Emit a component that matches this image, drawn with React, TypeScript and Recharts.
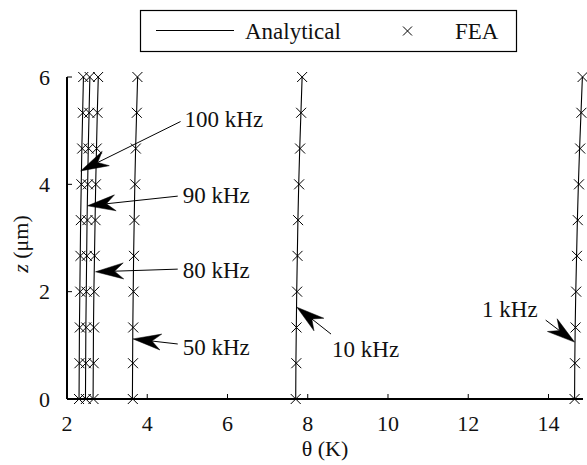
import React from 'react';
import { ScatterChart, Scatter, XAxis, YAxis, ReferenceLine } from 'recharts';

const zValues = [0, 0.667, 1.333, 2, 2.667, 3.333, 4, 4.667, 5.333, 6];

const analytical100k = [2.3, 2.305, 2.31, 2.32, 2.33, 2.34, 2.355, 2.37, 2.39, 2.41];
const analytical90k = [2.46, 2.465, 2.47, 2.48, 2.49, 2.5, 2.515, 2.53, 2.55, 2.57];
const analytical80k = [2.65, 2.655, 2.66, 2.67, 2.685, 2.7, 2.715, 2.735, 2.755, 2.78];
const analytical50k = [3.63, 3.635, 3.64, 3.65, 3.66, 3.675, 3.69, 3.71, 3.735, 3.76];
const analytical10k = [7.7, 7.705, 7.715, 7.725, 7.74, 7.755, 7.775, 7.8, 7.83, 7.86];
const analytical1k = [14.65, 14.655, 14.665, 14.68, 14.7, 14.72, 14.745, 14.775, 14.81, 14.845];

const fea100k = [2.3, 2.31, 2.32, 2.33, 2.335, 2.345, 2.36, 2.38, 2.395, 2.405];
const fea90k = [2.47, 2.47, 2.48, 2.485, 2.495, 2.51, 2.52, 2.54, 2.555, 2.565];
const fea80k = [2.66, 2.665, 2.675, 2.68, 2.69, 2.71, 2.72, 2.74, 2.76, 2.775];
const fea50k = [3.64, 3.645, 3.65, 3.66, 3.67, 3.68, 3.7, 3.715, 3.74, 3.755];
const fea10k = [7.7, 7.715, 7.72, 7.735, 7.745, 7.76, 7.785, 7.81, 7.835, 7.86];
const fea1k = [14.65, 14.66, 14.675, 14.69, 14.71, 14.73, 14.76, 14.79, 14.82, 14.85];

const xTicks = [2, 4, 6, 8, 10, 12, 14];
const yTicks = [0, 2, 4, 6];
const xDomain = [2, 14.86];
const yDomain = [0, 6];

const annotations = [
  { label: '100 kHz', from: [4.83, 5.17], to: [2.34, 4.25] },
  { label: '90 kHz', from: [4.76, 3.78], to: [2.51, 3.6] },
  { label: '80 kHz', from: [4.76, 2.42], to: [2.71, 2.37] },
  { label: '50 kHz', from: [4.76, 1.025], to: [3.645, 1.12] },
  { label: '10 kHz', from: [8.58, 1.21], to: [7.73, 1.71] },
  { label: '1 kHz', from: [13.93, 1.47], to: [14.65, 1.06] },
];

const textOffsets: Record<string, { dx: number; dy: number; anchor: string }> = {
  '100 kHz': { dx: 4, dy: 5, anchor: 'start' },
  '90 kHz': { dx: 5, dy: 7, anchor: 'start' },
  '80 kHz': { dx: 5, dy: 9, anchor: 'start' },
  '50 kHz': { dx: 5, dy: 11, anchor: 'start' },
  '10 kHz': { dx: 1, dy: 23, anchor: 'start' },
  '1 kHz': { dx: -8, dy: -3, anchor: 'end' },
};

const FONT = "'Liberation Serif', 'DejaVu Serif', 'Times New Roman', serif";
const txt = (size: number) => ({ fontFamily: FONT, fontSize: size });

const toPoints = (ts: number[]) => ts.map((t, i) => ({ t, z: zValues[i] }));

const series = [
  { name: '100k', a: analytical100k, f: fea100k },
  { name: '90k', a: analytical90k, f: fea90k },
  { name: '80k', a: analytical80k, f: fea80k },
  { name: '50k', a: analytical50k, f: fea50k },
  { name: '10k', a: analytical10k, f: fea10k },
  { name: '1k', a: analytical1k, f: fea1k },
];

const Cross = (props: any) => {
  const { cx, cy } = props;
  if (cx == null || cy == null) return <g />;
  const s = 5;
  return (
    <g>
      <line x1={cx - s} y1={cy - s} x2={cx + s} y2={cy + s} stroke="#000" strokeWidth={1} />
      <line x1={cx - s} y1={cy + s} x2={cx + s} y2={cy - s} stroke="#000" strokeWidth={1} />
    </g>
  );
};

const NoShape = () => <g />;

const BottomTick = (props: any) => {
  const { x, y, payload } = props;
  return (
    <g>
      <line x1={x} y1={y} x2={x} y2={y - 5} stroke="#000" strokeWidth={1} />
      <text x={x} y={y + 32} textAnchor="middle" style={txt(22)} fill="#111">
        {payload.value}
      </text>
    </g>
  );
};

const TopTick = (props: any) => {
  const { x, y } = props;
  return <line x1={x} y1={y} x2={x} y2={y + 5} stroke="#000" strokeWidth={1} />;
};

const LeftTick = (props: any) => {
  const { x, y, payload } = props;
  return (
    <g>
      <line x1={x} y1={y} x2={x + 5} y2={y} stroke="#000" strokeWidth={1} />
      <text x={x - 17} y={y} dy="0.35em" textAnchor="end" style={txt(22)} fill="#111">
        {payload.value}
      </text>
    </g>
  );
};

const RightTick = (props: any) => {
  const { x, y } = props;
  return <line x1={x} y1={y} x2={x - 5} y2={y} stroke="#000" strokeWidth={1} />;
};

const makeArrow = (label: string) => (props: any) => {
  const { x1, y1, x2, y2 } = props;
  const dx = x2 - x1;
  const dy = y2 - y1;
  const len = Math.hypot(dx, dy) || 1;
  const ux = dx / len;
  const uy = dy / len;
  const px = -uy;
  const py = ux;
  const L = 28;
  const W = 8;
  const N = 19;
  const bx = x2 - ux * L;
  const by = y2 - uy * L;
  const nx = x2 - ux * N;
  const ny = y2 - uy * N;
  const pts = `${x2},${y2} ${bx + px * W},${by + py * W} ${nx},${ny} ${bx - px * W},${by - py * W}`;
  const o = textOffsets[label];
  return (
    <g>
      <line x1={x1} y1={y1} x2={nx} y2={ny} stroke="#000" strokeWidth={1} />
      <polygon points={pts} fill="#000" stroke="#000" strokeWidth={0.5} />
      <text x={x1 + o.dx} y={y1 + o.dy} textAnchor={o.anchor as any} style={txt(23)} fill="#111">
        {label}
      </text>
    </g>
  );
};

const XLabel = (props: any) => {
  const vb = props.viewBox || {};
  return (
    <text x={vb.x + vb.width / 2} y={vb.y + 57} textAnchor="middle" style={txt(22)} fill="#111">
      θ (K)
    </text>
  );
};

const Overlay = () => (
  <svg width={587} height={465} style={{ position: 'absolute', left: 0, top: 0, pointerEvents: 'none' }}>
    <rect x={140.5} y={10.5} width={376} height={41} fill="#fff" stroke="#000" strokeWidth={1.2} />
    <line x1={156} y1={30.5} x2={234} y2={30.5} stroke="#000" strokeWidth={1} />
    <text x={245} y={38.5} style={txt(23)} fill="#111">
      Analytical
    </text>
    <line x1={403} y1={26.5} x2={412} y2={35.5} stroke="#000" strokeWidth={1} />
    <line x1={403} y1={35.5} x2={412} y2={26.5} stroke="#000" strokeWidth={1} />
    <text x={455} y={38.5} style={txt(23)} fill="#111">
      FEA
    </text>
    <text
      x={20}
      y={244}
      transform="rotate(-90, 20, 244)"
      dy="0.35em"
      textAnchor="middle"
      style={txt(22)}
      fill="#111"
    >
      <tspan fontStyle="italic">z</tspan> (μm)
    </text>
  </svg>
);

export default function App() {
  return (
    <div style={{ position: 'absolute', left: 0, top: 0, width: 587, height: 465, background: '#fff', fontFamily: FONT }}>
      <ScatterChart width={587} height={465} margin={{ top: 77, right: 4, left: 0, bottom: 0 }}>
        <XAxis
          xAxisId="bottom"
          type="number"
          dataKey="t"
          domain={xDomain}
          ticks={xTicks}
          interval={0}
          height={66}
          tickSize={0}
          tickMargin={0}
          tickLine={false}
          tick={<BottomTick />}
          axisLine={{ stroke: '#000', strokeWidth: 2 }}
          label={<XLabel />}
        />
        <XAxis
          xAxisId="top"
          orientation="top"
          type="number"
          dataKey="t"
          domain={xDomain}
          ticks={xTicks}
          interval={0}
          height={0}
          tickSize={0}
          tickMargin={0}
          tickLine={false}
          tick={<TopTick />}
          axisLine={{ stroke: '#000', strokeWidth: 2 }}
        />
        <YAxis
          yAxisId="left"
          type="number"
          dataKey="z"
          domain={yDomain}
          ticks={yTicks}
          interval={0}
          width={67}
          tickSize={0}
          tickMargin={0}
          tickLine={false}
          tick={<LeftTick />}
          axisLine={{ stroke: '#000', strokeWidth: 2 }}
        />
        <YAxis
          yAxisId="right"
          orientation="right"
          type="number"
          dataKey="z"
          domain={yDomain}
          ticks={yTicks}
          interval={0}
          width={0}
          tickSize={0}
          tickMargin={0}
          tickLine={false}
          tick={<RightTick />}
          axisLine={{ stroke: '#000', strokeWidth: 2 }}
        />
        {series.map((s) => (
          <Scatter
            key={`a-${s.name}`}
            xAxisId="bottom"
            yAxisId="left"
            data={toPoints(s.a)}
            line={{ stroke: '#000', strokeWidth: 1.1 }}
            shape={<NoShape />}
            isAnimationActive={false}
          />
        ))}
        {series.map((s) => (
          <Scatter
            key={`f-${s.name}`}
            xAxisId="bottom"
            yAxisId="left"
            data={toPoints(s.f)}
            shape={<Cross />}
            isAnimationActive={false}
          />
        ))}
        {annotations.map((a) => (
          <ReferenceLine
            key={a.label}
            xAxisId="bottom"
            yAxisId="left"
            segment={[
              { x: a.from[0], y: a.from[1] },
              { x: a.to[0], y: a.to[1] },
            ]}
            ifOverflow="visible"
            shape={makeArrow(a.label)}
          />
        ))}
      </ScatterChart>
      <Overlay />
    </div>
  );
}
